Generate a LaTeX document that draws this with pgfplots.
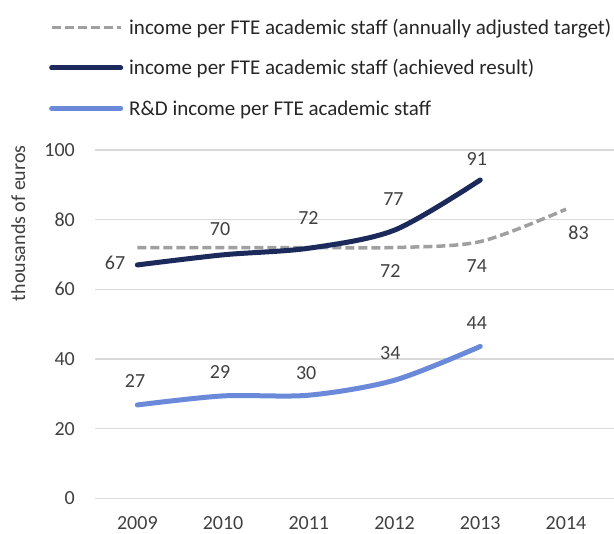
\documentclass[border=0pt]{standalone}
\usepackage{pgfplots}
\pgfplotsset{compat=1.18}
\usepackage{fontspec}
\setmainfont{Carlito}
\definecolor{navy}{HTML}{1B2A5A}
\definecolor{rdblue}{HTML}{6A8AD9}
\definecolor{tgray}{HTML}{A0A0A0}
\definecolor{gridc}{HTML}{D9D9D9}
\definecolor{txt}{HTML}{404040}
\definecolor{legtxt}{HTML}{262626}
\begin{document}
\fontsize{20bp}{24bp}\selectfont
\begin{tikzpicture}
\useasboundingbox (0,0) rectangle (614bp,534bp);
\begin{axis}[
  at={(94.5bp,35.7bp)}, anchor=south west,
  scale only axis, width=519.5bp, height=348.3bp,
  xmin=-0.5, xmax=5.56, ymin=0, ymax=100,
  clip=false,
  axis line style={draw=none},
  xtick={0,1,2,3,4,5},
  xticklabels={2009,2010,2011,2012,2013,2014},
  ytick={0,20,40,60,80,100},
  ymajorgrids,
  grid style={gridc, line width=1.5bp},
  major tick length=0pt,
  tick style={draw=none},
  /pgf/number format/assume math mode=true,
  ticklabel style={font=\fontsize{20bp}{24bp}\selectfont, text=txt},
  xticklabel style={anchor=north, inner sep=0pt, yshift=-18bp},
  yticklabel style={anchor=east, inner sep=0pt, xshift=-19.5bp},
  ylabel={thousands of euros},
  ylabel style={at={(axis description cs:-0.1467,0.7896)}, anchor=center, font=\fontsize{20bp}{24bp}\selectfont, text=txt},
  legend style={draw=none, fill=none, at={(axis description cs:-0.0934,1.386)}, anchor=north west,
    legend cell align=left, row sep=20.5bp, column sep=6bp,
    font=\fontsize{21bp}{24bp}\selectfont, text=legtxt, nodes={inner sep=0pt}},
  legend image code/.code={\draw[#1] (0bp,0bp) -- (69bp,0bp);},
]
\addplot[tgray, line width=3.5bp, dash pattern=on 9bp off 4bp, smooth, tension=0.5]
  coordinates {(0,72) (1,72) (2,72) (3,72) (4,73.7) (5,83)};
\addlegendentry{\strut income per FTE academic staff (annually adjusted target)}
\addplot[navy, line width=5bp, line cap=round, smooth, tension=0.5]
  coordinates {(0,67) (1,69.9) (2,71.8) (3,77) (4,91.4)};
\addlegendentry{\strut income per FTE academic staff (achieved result)}
\addplot[rdblue, line width=5bp, line cap=round, smooth, tension=0.5]
  coordinates {(0,26.8) (1,29.4) (2,29.6) (3,33.9) (4,43.6)};
\addlegendentry{\strut R\&D income per FTE academic staff}
% data labels
\begin{scope}[every node/.style={text=txt, font=\fontsize{20bp}{24bp}\selectfont, inner sep=0pt}]
\node at (axis cs:-0.26,67.6) {67};
\node at (axis cs:0.965,77.2) {70};
\node at (axis cs:1.995,80.6) {72};
\node at (axis cs:2.987,85.8) {77};
\node at (axis cs:3.96,97.4) {91};
\node at (axis cs:2.95,65.3) {72};
\node at (axis cs:3.96,66.7) {74};
\node at (axis cs:5.146,76.1) {83};
\node at (axis cs:-0.027,33.8) {27};
\node at (axis cs:0.965,36.3) {29};
\node at (axis cs:1.969,35.9) {30};
\node at (axis cs:2.95,41.6) {34};
\node at (axis cs:3.96,50.4) {44};
\end{scope}
\end{axis}
\end{tikzpicture}
\end{document}
